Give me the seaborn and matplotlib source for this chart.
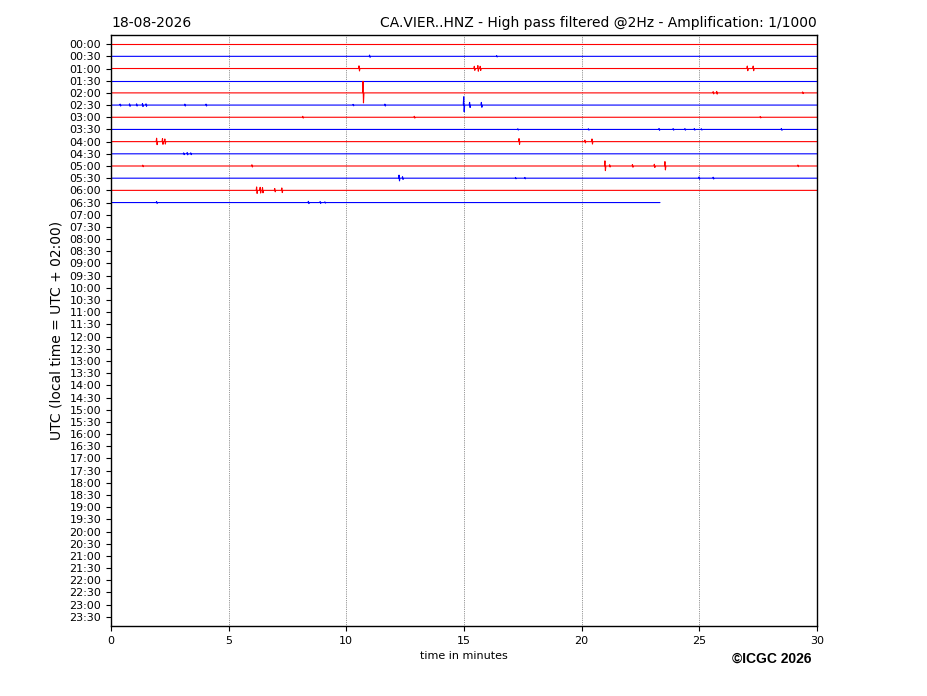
import numpy as np
import pandas as pd
import matplotlib
matplotlib.use("Agg")
import matplotlib.pyplot as plt
import seaborn as sns

# ---- data ----
row_labels = [f"{h:02d}:{m:02d}" for h in range(24) for m in (0, 30)]
row_colors = ["red", "blue"]
trace_end = [30] * 13 + [23.33]          # minutes recorded per available row (00:00 .. 06:30)

# events: (row index, minute, amplitude up, amplitude down) in row units
events = [
    (1, 11.0, 0.10, 0.08), (1, 16.4, 0.06, 0.05),
    (2, 10.55, 0.22, 0.20), (2, 15.45, 0.18, 0.15), (2, 15.6, 0.24, 0.22), (2, 15.7, 0.18, 0.16),
    (2, 27.05, 0.20, 0.18), (2, 27.3, 0.20, 0.18),
    (4, 10.72, 0.95, 0.82), (4, 25.6, 0.10, 0.08), (4, 25.75, 0.12, 0.10), (4, 29.4, 0.08, 0.06),
    (5, 0.4, 0.08, 0.08), (5, 0.8, 0.10, 0.10), (5, 1.1, 0.10, 0.08), (5, 1.35, 0.12, 0.12),
    (5, 1.5, 0.10, 0.10), (5, 3.15, 0.08, 0.08), (5, 4.05, 0.08, 0.08), (5, 10.3, 0.06, 0.06),
    (5, 11.65, 0.08, 0.08), (5, 15.0, 0.68, 0.55), (5, 15.25, 0.22, 0.20), (5, 15.75, 0.22, 0.18),
    (6, 8.16, 0.08, 0.07), (6, 12.9, 0.08, 0.07), (6, 27.6, 0.06, 0.05),
    (7, 17.3, 0.06, 0.05), (7, 20.3, 0.06, 0.06), (7, 23.3, 0.08, 0.07), (7, 23.9, 0.07, 0.06),
    (7, 24.4, 0.07, 0.06), (7, 24.8, 0.07, 0.06), (7, 25.1, 0.06, 0.05), (7, 28.5, 0.08, 0.07),
    (8, 1.95, 0.28, 0.25), (8, 2.2, 0.25, 0.22), (8, 2.3, 0.22, 0.20),
    (8, 17.35, 0.25, 0.22), (8, 20.15, 0.12, 0.10), (8, 20.45, 0.22, 0.20),
    (9, 3.1, 0.08, 0.07), (9, 3.25, 0.10, 0.08), (9, 3.4, 0.08, 0.07),
    (10, 1.36, 0.07, 0.06), (10, 6.0, 0.10, 0.08), (10, 21.0, 0.42, 0.38), (10, 21.2, 0.10, 0.08),
    (10, 22.17, 0.12, 0.10), (10, 23.1, 0.14, 0.12), (10, 23.55, 0.36, 0.32), (10, 29.2, 0.08, 0.06),
    (11, 12.25, 0.25, 0.22), (11, 12.4, 0.12, 0.10), (11, 17.2, 0.06, 0.05), (11, 17.6, 0.06, 0.05),
    (11, 25.0, 0.10, 0.08), (11, 25.6, 0.08, 0.07),
    (12, 6.2, 0.28, 0.25), (12, 6.35, 0.25, 0.22), (12, 6.45, 0.22, 0.20),
    (12, 6.97, 0.15, 0.12), (12, 7.27, 0.20, 0.18),
    (13, 1.95, 0.08, 0.07), (13, 8.4, 0.10, 0.08), (13, 8.9, 0.08, 0.07), (13, 9.1, 0.06, 0.05),
]
spike_halfwidth = 0.03   # drawing width of a spike, minutes

# ---- build long-form table ----
recs = []
for r, end in enumerate(trace_end):
    pts = [(0.0, 0.0)]
    for (er, m, up, dn) in sorted([e for e in events if e[0] == r], key=lambda e: e[1]):
        pts += [(m - spike_halfwidth, 0.0), (m - spike_halfwidth / 3, -up),
                (m + spike_halfwidth / 3, dn), (m + spike_halfwidth, 0.0)]
    pts.append((end, 0.0))
    for i, (x, dy) in enumerate(pts):
        recs.append({"row": r, "order": i, "minute": x, "y": r + dy})
df = pd.DataFrame(recs)

sns.set_style("ticks", {"text.color": "black", "axes.labelcolor": "black",
                        "xtick.color": "black", "ytick.color": "black",
                        "axes.edgecolor": "black"})
plt.rcParams["font.family"] = ["DejaVu Sans"]

fig = plt.figure(figsize=(9.27, 6.96), dpi=100)
ax = fig.add_axes([0.1197, 0.1006, 0.7616, 0.8491])

for r in range(len(trace_end)):
    sns.lineplot(data=df[df["row"] == r], x="minute", y="y",
                 color=row_colors[r % 2], estimator=None, sort=False,
                 linewidth=0.8, legend=False, ax=ax)

for xv in [5, 10, 15, 20, 25]:
    ax.axvline(xv, color="black", linestyle=":", linewidth=0.5, alpha=0.8, zorder=0)

ax.set_xlim(0, 30)
ax.set_ylim(len(row_labels) - 0.25, -0.75)
ax.set_yticks(range(len(row_labels)))
ax.set_yticklabels(row_labels)
ax.set_xticks([0, 5, 10, 15, 20, 25, 30])
ax.tick_params(axis="both", labelsize=8, width=0.8, length=3.5, direction="out",
               colors="black")
ax.set_xlabel("time in minutes", fontsize=8)
ax.set_ylabel("UTC (local time = UTC + 02:00)", fontsize=10)
for s in ax.spines.values():
    s.set_visible(True)
    s.set_linewidth(1.0)
    s.set_color("black")

ax.set_title("18-08-2026", loc="left", fontsize=10)
ax.set_title("CA.VIER..HNZ - High pass filtered @2Hz - Amplification: 1/1000",
             loc="right", fontsize=10)
fig.text(0.875, 0.053, "©ICGC 2026", ha="right", va="center", fontsize=10,
         fontweight="bold", family="Liberation Sans")

fig.savefig("out.png", dpi=100)
